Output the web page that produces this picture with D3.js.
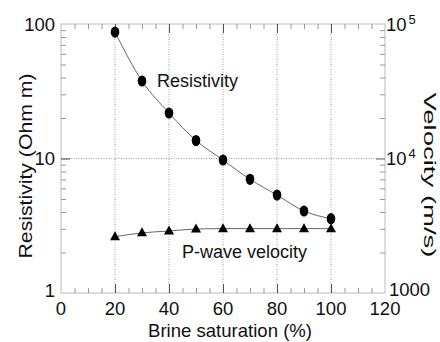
<!DOCTYPE html>
<html><head><meta charset="utf-8">
<script src="https://cdn.jsdelivr.net/npm/d3@7"></script>
<style>
body { margin: 0; background: #fff; }
text { font-family: "Liberation Sans", Arial, sans-serif; fill: #111; }
</style>
</head><body><script>
var saturation = [20, 30, 40, 50, 60, 70, 80, 90, 100];
var resistivity = [87, 37.7, 21.8, 13.6, 9.75, 7.0, 5.35, 4.07, 3.57];
var velocity = [2620, 2800, 2890, 2990, 3010, 3010, 3010, 3010, 3010];
var xTicks = [0, 20, 40, 60, 80, 100, 120];
var leftTicks = [1, 10, 100];
var rightTicks = [1000, 10000, 100000];
var rightBase = ["1000", "10", "10"];
var rightExp = ["", "4", "5"];

var width = 440,
    height = 342;

var x = d3.scaleLinear().domain([0, 120]).range([61, 385]);
var yL = d3.scaleLog().domain([1, 100]).range([293, 24]);
var yR = d3.scaleLog().domain([1000, 100000]).range([293, 24]);

var svg = d3.select("body").append("svg")
    .attr("width", width)
    .attr("height", height);

var x0 = x(0), x1 = x(120), yTop = yL(100), yBot = yL(1);

// grid
svg.append("g").selectAll("line")
    .data(xTicks.filter(function(d) { return d > 0 && d < 120; }))
  .enter().append("line")
    .attr("x1", function(d) { return x(d); })
    .attr("x2", function(d) { return x(d); })
    .attr("y1", yTop).attr("y2", yBot)
    .style("stroke", "#888").style("stroke-dasharray", "1,1.5").style("stroke-width", 0.8);

svg.append("line")
    .attr("x1", x0).attr("x2", x1)
    .attr("y1", yL(10)).attr("y2", yL(10))
    .style("stroke", "#888").style("stroke-dasharray", "1,1.5").style("stroke-width", 0.8);

// frame
svg.append("rect")
    .attr("x", x0).attr("y", yTop)
    .attr("width", x1 - x0).attr("height", yBot - yTop)
    .style("fill", "none").style("stroke", "#bbb").style("stroke-width", 1);

// ticks
var minorX = d3.range(0, 121, 5).filter(function(d) { return d % 20 !== 0; });
var minorL = [];
[1, 10].forEach(function(b) { for (var k = 2; k <= 9; k++) minorL.push(b * k); });
var minorR = minorL.map(function(d) { return d * 1000; });

function tickStyle(g, col) {
  g.select(".domain").remove();
  g.selectAll("line").style("stroke", col);
}

svg.append("g").attr("transform", "translate(0," + yBot + ")")
    .call(d3.axisBottom(x).tickValues(minorX).tickSize(-5).tickFormat(""))
    .call(tickStyle, "#999");
svg.append("g").attr("transform", "translate(0," + yBot + ")")
    .call(d3.axisBottom(x).tickValues(xTicks.slice(1, 6)).tickSize(-9).tickFormat(""))
    .call(tickStyle, "#555");
svg.append("g").attr("transform", "translate(0," + yTop + ")")
    .call(d3.axisTop(x).tickValues(minorX).tickSize(-5).tickFormat(""))
    .call(tickStyle, "#999");
svg.append("g").attr("transform", "translate(0," + yTop + ")")
    .call(d3.axisTop(x).tickValues(xTicks.slice(1, 6)).tickSize(-9).tickFormat(""))
    .call(tickStyle, "#555");
svg.append("g").attr("transform", "translate(" + x0 + ",0)")
    .call(d3.axisLeft(yL).tickValues(minorL).tickSize(-5).tickFormat(""))
    .call(tickStyle, "#999");
svg.append("g").attr("transform", "translate(" + x0 + ",0)")
    .call(d3.axisLeft(yL).tickValues([10]).tickSize(-9).tickFormat(""))
    .call(tickStyle, "#444");
svg.append("g").attr("transform", "translate(" + x1 + ",0)")
    .call(d3.axisRight(yR).tickValues(minorR).tickSize(-5).tickFormat(""))
    .call(tickStyle, "#999");
svg.append("g").attr("transform", "translate(" + x1 + ",0)")
    .call(d3.axisRight(yR).tickValues([10000]).tickSize(-9).tickFormat(""))
    .call(tickStyle, "#666");

// tick labels
svg.append("g").selectAll("text")
    .data(xTicks)
  .enter().append("text")
    .attr("x", function(d) { return x(d); })
    .attr("y", 315)
    .attr("text-anchor", "middle")
    .style("font-size", "18.5px")
    .text(function(d) { return d; });

svg.append("g").selectAll("text")
    .data(leftTicks)
  .enter().append("text")
    .attr("x", 55)
    .attr("y", function(d) { return yL(d); })
    .attr("dy", function(d) { return d === 1 ? "0.2em" : "0.36em"; })
    .attr("text-anchor", "end")
    .style("font-size", "18.5px")
    .text(function(d) { return d; });

var rl = svg.append("g").selectAll("text")
    .data(rightTicks)
  .enter().append("text")
    .attr("x", function(d) { return d === 1000 ? x1 + 4 : x1 + 1; })
    .attr("y", function(d) { return yR(d); })
    .attr("dy", function(d) { return d === 1000 ? "0.15em" : "0.36em"; })
    .style("font-size", "18.5px");
rl.append("tspan").text(function(d, i) { return rightBase[i]; });
rl.append("tspan")
    .attr("dx", 2).attr("dy", "-0.55em")
    .style("font-size", "13px")
    .text(function(d, i) { return rightExp[i]; });

// axis titles
svg.append("text")
    .attr("transform", "translate(230,337)")
    .attr("text-anchor", "middle")
    .attr("textLength", 164).attr("lengthAdjust", "spacingAndGlyphs")
    .style("font-size", "19px")
    .text("Brine saturation (%)");

svg.append("text")
    .attr("transform", "translate(32,166) rotate(-90)")
    .attr("text-anchor", "middle")
    .attr("textLength", 185).attr("lengthAdjust", "spacingAndGlyphs")
    .style("font-size", "18px")
    .text("Resistivity (Ohm m)");

svg.append("text")
    .attr("transform", "translate(424,175) rotate(90)")
    .attr("text-anchor", "middle")
    .attr("textLength", 165).attr("lengthAdjust", "spacingAndGlyphs")
    .style("font-size", "17px")
    .text("Velocity (m/s)");

// series
var resLine = d3.line()
    .x(function(d, i) { return x(saturation[i]); })
    .y(function(d) { return yL(d); })
    .curve(d3.curveMonotoneX);
var velLine = d3.line()
    .x(function(d, i) { return x(saturation[i]); })
    .y(function(d) { return yR(d); })
    .curve(d3.curveMonotoneX);

svg.append("path").datum(resistivity)
    .attr("d", resLine)
    .style("fill", "none").style("stroke", "#666").style("stroke-width", 1);
svg.append("path").datum(velocity)
    .attr("d", velLine)
    .style("fill", "none").style("stroke", "#666").style("stroke-width", 1);

svg.append("g").selectAll("ellipse")
    .data(resistivity)
  .enter().append("ellipse")
    .attr("cx", function(d, i) { return x(saturation[i]); })
    .attr("cy", function(d) { return yL(d); })
    .attr("rx", 4.3).attr("ry", 5.6)
    .style("fill", "#000");

svg.append("g").selectAll("path")
    .data(velocity)
  .enter().append("path")
    .attr("transform", function(d, i) { return "translate(" + x(saturation[i]) + "," + yR(d) + ")"; })
    .attr("d", "M0,-5.5L5,3.5L-5,3.5Z")
    .style("fill", "#000");

// series labels
svg.append("text")
    .attr("x", 157).attr("y", 87)
    .style("font-size", "18px")
    .text("Resistivity");
svg.append("text")
    .attr("x", 182).attr("y", 258)
    .style("font-size", "18px")
    .text("P-wave velocity");
</script></body></html>
